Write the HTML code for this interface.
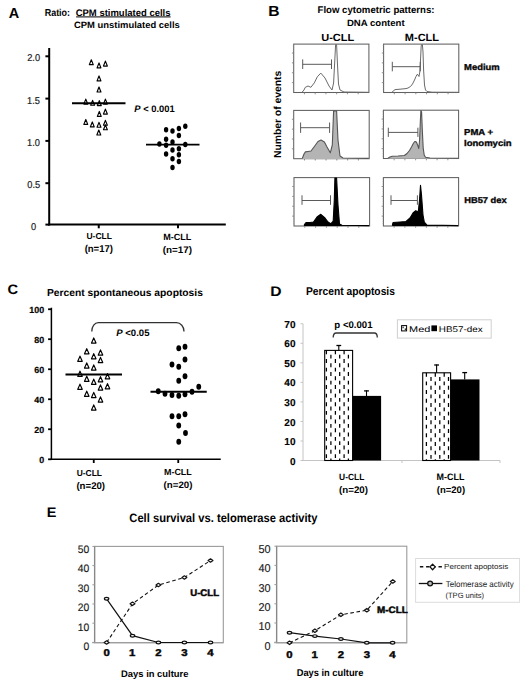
<!DOCTYPE html><html><head><meta charset="utf-8"><style>html,body{margin:0;padding:0;background:#fff;width:520px;height:685px;overflow:hidden}svg{display:block}text{font-family:"Liberation Sans",sans-serif;text-rendering:geometricPrecision}</style></head><body>
<svg width="520" height="685" viewBox="0 0 520 685">
<rect width="520" height="685" fill="#fff"/>
<text x="8.64" y="17.8" font-size="14.53" textLength="10.44" lengthAdjust="spacingAndGlyphs" font-weight="bold">A</text>
<text x="44.70" y="15.6" font-size="10.10" textLength="25.36" lengthAdjust="spacingAndGlyphs" font-weight="bold">Ratio:</text>
<text x="75.71" y="15.6" font-size="9.59" textLength="94.78" lengthAdjust="spacingAndGlyphs" font-weight="bold">CPM stimulated cells</text>
<line x1="76.1" y1="16.9" x2="170.6" y2="16.9" stroke="#333" stroke-width="1.1" />
<text x="74.01" y="28.4" font-size="9.16" textLength="105.77" lengthAdjust="spacingAndGlyphs" font-weight="bold">CPM unstimulated cells</text>
<line x1="49.2" y1="48" x2="49.2" y2="225.5" stroke="#000" stroke-width="2" />
<line x1="48.2" y1="224.6" x2="225.8" y2="224.6" stroke="#000" stroke-width="2" />
<line x1="45.4" y1="56.3" x2="49.2" y2="56.3" stroke="#000" stroke-width="2" />
<text x="27.21" y="61.25" font-size="9.96" textLength="12.88" lengthAdjust="spacingAndGlyphs" fill="#1a1a1a" stroke="#1a1a1a" stroke-width="0.2">2.0</text>
<line x1="45.4" y1="98.6" x2="49.2" y2="98.6" stroke="#000" stroke-width="2" />
<text x="27.10" y="103.55" font-size="9.96" textLength="12.88" lengthAdjust="spacingAndGlyphs" fill="#1a1a1a" stroke="#1a1a1a" stroke-width="0.2">1.5</text>
<line x1="45.4" y1="140.9" x2="49.2" y2="140.9" stroke="#000" stroke-width="2" />
<text x="27.09" y="145.85" font-size="9.96" textLength="12.88" lengthAdjust="spacingAndGlyphs" fill="#1a1a1a" stroke="#1a1a1a" stroke-width="0.2">1.0</text>
<line x1="45.4" y1="183.2" x2="49.2" y2="183.2" stroke="#000" stroke-width="2" />
<text x="27.27" y="188.14999999999998" font-size="9.96" textLength="12.88" lengthAdjust="spacingAndGlyphs" fill="#1a1a1a" stroke="#1a1a1a" stroke-width="0.2">0.5</text>
<line x1="45.4" y1="224.6" x2="49.2" y2="224.6" stroke="#000" stroke-width="2" />
<text x="31.12" y="229.54999999999998" font-size="9.96" textLength="5.15" lengthAdjust="spacingAndGlyphs" fill="#1a1a1a" stroke="#1a1a1a" stroke-width="0.2">0</text>
<line x1="98.75" y1="224.6" x2="98.75" y2="228.3" stroke="#000" stroke-width="2" />
<line x1="178" y1="224.6" x2="178" y2="228.3" stroke="#000" stroke-width="2" />
<polygon points="91.3,59.75 89.35,64.65 93.25,64.65" fill="#fff" stroke="#000" stroke-width="1.15" stroke-linejoin="round"/>
<polygon points="99,62.95 97.05,67.85000000000001 100.95,67.85000000000001" fill="#fff" stroke="#000" stroke-width="1.15" stroke-linejoin="round"/>
<polygon points="105.4,61.15 103.45,66.05 107.35000000000001,66.05" fill="#fff" stroke="#000" stroke-width="1.15" stroke-linejoin="round"/>
<polygon points="99,75.95 97.05,80.85000000000001 100.95,80.85000000000001" fill="#fff" stroke="#000" stroke-width="1.15" stroke-linejoin="round"/>
<polygon points="99,87.05 97.05,91.95 100.95,91.95" fill="#fff" stroke="#000" stroke-width="1.15" stroke-linejoin="round"/>
<polygon points="85.8,99.14999999999999 83.85,104.05 87.75,104.05" fill="#fff" stroke="#000" stroke-width="1.15" stroke-linejoin="round"/>
<polygon points="92.6,100.35 90.64999999999999,105.25 94.55,105.25" fill="#fff" stroke="#000" stroke-width="1.15" stroke-linejoin="round"/>
<polygon points="99.3,100.64999999999999 97.35,105.55 101.25,105.55" fill="#fff" stroke="#000" stroke-width="1.15" stroke-linejoin="round"/>
<polygon points="105.4,99.14999999999999 103.45,104.05 107.35000000000001,104.05" fill="#fff" stroke="#000" stroke-width="1.15" stroke-linejoin="round"/>
<polygon points="105.4,109.14999999999999 103.45,114.05 107.35000000000001,114.05" fill="#fff" stroke="#000" stroke-width="1.15" stroke-linejoin="round"/>
<polygon points="99.3,111.45 97.35,116.35000000000001 101.25,116.35000000000001" fill="#fff" stroke="#000" stroke-width="1.15" stroke-linejoin="round"/>
<polygon points="85.8,119.45 83.85,124.35000000000001 87.75,124.35000000000001" fill="#fff" stroke="#000" stroke-width="1.15" stroke-linejoin="round"/>
<polygon points="92.3,121.95 90.35,126.85000000000001 94.25,126.85000000000001" fill="#fff" stroke="#000" stroke-width="1.15" stroke-linejoin="round"/>
<polygon points="99,122.35 97.05,127.25 100.95,127.25" fill="#fff" stroke="#000" stroke-width="1.15" stroke-linejoin="round"/>
<polygon points="105.4,120.35 103.45,125.25 107.35000000000001,125.25" fill="#fff" stroke="#000" stroke-width="1.15" stroke-linejoin="round"/>
<polygon points="105.4,124.85 103.45,129.75 107.35000000000001,129.75" fill="#fff" stroke="#000" stroke-width="1.15" stroke-linejoin="round"/>
<polygon points="98.8,130.05 96.85,134.95 100.75,134.95" fill="#fff" stroke="#000" stroke-width="1.15" stroke-linejoin="round"/>
<line x1="72" y1="103.3" x2="125.5" y2="103.3" stroke="#000" stroke-width="1.9" />
<ellipse cx="166.1" cy="129.7" rx="2.2" ry="2.75" fill="#000"/>
<ellipse cx="172.5" cy="131.1" rx="2.2" ry="2.75" fill="#000"/>
<ellipse cx="178.9" cy="128.5" rx="2.2" ry="2.75" fill="#000"/>
<ellipse cx="185.3" cy="126.2" rx="2.2" ry="2.75" fill="#000"/>
<ellipse cx="178.9" cy="135.5" rx="2.2" ry="2.75" fill="#000"/>
<ellipse cx="166.1" cy="139.2" rx="2.2" ry="2.75" fill="#000"/>
<ellipse cx="159.4" cy="143.9" rx="2.2" ry="2.75" fill="#000"/>
<ellipse cx="166.1" cy="145.2" rx="2.2" ry="2.75" fill="#000"/>
<ellipse cx="172.5" cy="142.1" rx="2.2" ry="2.75" fill="#000"/>
<ellipse cx="185.3" cy="144.5" rx="2.2" ry="2.75" fill="#000"/>
<ellipse cx="172.5" cy="149.9" rx="2.2" ry="2.75" fill="#000"/>
<ellipse cx="178.9" cy="148.7" rx="2.2" ry="2.75" fill="#000"/>
<ellipse cx="166.1" cy="154" rx="2.2" ry="2.75" fill="#000"/>
<ellipse cx="178.9" cy="154.8" rx="2.2" ry="2.75" fill="#000"/>
<ellipse cx="172.5" cy="158.8" rx="2.2" ry="2.75" fill="#000"/>
<ellipse cx="178.9" cy="161.5" rx="2.2" ry="2.75" fill="#000"/>
<ellipse cx="172.5" cy="167.6" rx="2.2" ry="2.75" fill="#000"/>
<line x1="146" y1="144.6" x2="199.5" y2="144.6" stroke="#000" stroke-width="1.9" />
<text x="134.37" y="112" font-size="9.45" textLength="40.39" lengthAdjust="spacingAndGlyphs" font-weight="bold"><tspan font-style="italic">P</tspan> &lt; 0.001</text>
<text x="86.49" y="239.2" font-size="8.72" textLength="25.47" lengthAdjust="spacingAndGlyphs" font-weight="bold">U-CLL</text>
<text x="84.63" y="251.9" font-size="9.94" textLength="28.35" lengthAdjust="spacingAndGlyphs" font-weight="bold">(n=17)</text>
<text x="163.19" y="239.9" font-size="9.01" textLength="28.19" lengthAdjust="spacingAndGlyphs" font-weight="bold">M-CLL</text>
<text x="162.71" y="252.6" font-size="9.52" textLength="29.28" lengthAdjust="spacingAndGlyphs" font-weight="bold">(n=17)</text>
<text x="268.26" y="16.1" font-size="14.61" textLength="11.25" lengthAdjust="spacingAndGlyphs" font-weight="bold">B</text>
<text x="317.56" y="13.3" font-size="9.74" textLength="116.97" lengthAdjust="spacingAndGlyphs" font-weight="bold">Flow cytometric patterns:</text>
<text x="346.96" y="26.3" font-size="9.16" textLength="57.65" lengthAdjust="spacingAndGlyphs" font-weight="bold">DNA content</text>
<text x="321.24" y="41.1" font-size="10.32" textLength="33.00" lengthAdjust="spacingAndGlyphs" font-weight="bold">U-CLL</text>
<text x="404.86" y="41.2" font-size="10.47" textLength="34.17" lengthAdjust="spacingAndGlyphs" font-weight="bold">M-CLL</text>
<text x="464.07" y="69.55" font-size="8.65" textLength="35.62" lengthAdjust="spacingAndGlyphs" font-weight="bold" stroke="#111" stroke-width="0.35">Medium</text>
<text x="464.07" y="135.1" font-size="8.58" textLength="29.01" lengthAdjust="spacingAndGlyphs" font-weight="bold" stroke="#111" stroke-width="0.35">PMA +</text>
<text x="464.06" y="145.8" font-size="8.72" textLength="47.63" lengthAdjust="spacingAndGlyphs" font-weight="bold" stroke="#111" stroke-width="0.35">Ionomycin</text>
<text x="464.18" y="203.2" font-size="8.43" textLength="42.49" lengthAdjust="spacingAndGlyphs" font-weight="bold" stroke="#111" stroke-width="0.35">HB57 dex</text>
<text x="-0.69" y="0" font-size="10.17" textLength="87.32" lengthAdjust="spacingAndGlyphs" font-weight="bold" transform="translate(280.8,157.4) rotate(-90)">Number of events</text>
<rect x="293.7" y="44.1" width="75.19999999999999" height="48.4" fill="none" stroke="#606060" stroke-width="1.05"/>
<line x1="291.9" y1="82.62244897959184" x2="293.7" y2="82.62244897959184" stroke="#777" stroke-width="0.8" />
<line x1="291.9" y1="72.74489795918367" x2="293.7" y2="72.74489795918367" stroke="#777" stroke-width="0.8" />
<line x1="291.9" y1="62.86734693877551" x2="293.7" y2="62.86734693877551" stroke="#777" stroke-width="0.8" />
<line x1="291.9" y1="52.98979591836735" x2="293.7" y2="52.98979591836735" stroke="#777" stroke-width="0.8" />
<line x1="292.8" y1="90.03061224489795" x2="293.7" y2="90.03061224489795" stroke="#999" stroke-width="0.5" />
<line x1="292.8" y1="87.56122448979592" x2="293.7" y2="87.56122448979592" stroke="#999" stroke-width="0.5" />
<line x1="292.8" y1="85.09183673469389" x2="293.7" y2="85.09183673469389" stroke="#999" stroke-width="0.5" />
<line x1="292.8" y1="82.62244897959184" x2="293.7" y2="82.62244897959184" stroke="#999" stroke-width="0.5" />
<line x1="292.8" y1="80.15306122448979" x2="293.7" y2="80.15306122448979" stroke="#999" stroke-width="0.5" />
<line x1="292.8" y1="77.68367346938776" x2="293.7" y2="77.68367346938776" stroke="#999" stroke-width="0.5" />
<line x1="292.8" y1="75.21428571428572" x2="293.7" y2="75.21428571428572" stroke="#999" stroke-width="0.5" />
<line x1="292.8" y1="72.74489795918367" x2="293.7" y2="72.74489795918367" stroke="#999" stroke-width="0.5" />
<line x1="292.8" y1="70.27551020408164" x2="293.7" y2="70.27551020408164" stroke="#999" stroke-width="0.5" />
<line x1="292.8" y1="67.8061224489796" x2="293.7" y2="67.8061224489796" stroke="#999" stroke-width="0.5" />
<line x1="292.8" y1="65.33673469387756" x2="293.7" y2="65.33673469387756" stroke="#999" stroke-width="0.5" />
<line x1="292.8" y1="62.86734693877551" x2="293.7" y2="62.86734693877551" stroke="#999" stroke-width="0.5" />
<line x1="292.8" y1="60.39795918367348" x2="293.7" y2="60.39795918367348" stroke="#999" stroke-width="0.5" />
<line x1="292.8" y1="57.92857142857143" x2="293.7" y2="57.92857142857143" stroke="#999" stroke-width="0.5" />
<line x1="292.8" y1="55.45918367346939" x2="293.7" y2="55.45918367346939" stroke="#999" stroke-width="0.5" />
<line x1="292.8" y1="52.98979591836735" x2="293.7" y2="52.98979591836735" stroke="#999" stroke-width="0.5" />
<line x1="292.8" y1="50.52040816326531" x2="293.7" y2="50.52040816326531" stroke="#999" stroke-width="0.5" />
<line x1="292.8" y1="48.051020408163275" x2="293.7" y2="48.051020408163275" stroke="#999" stroke-width="0.5" />
<line x1="292.8" y1="45.58163265306123" x2="293.7" y2="45.58163265306123" stroke="#999" stroke-width="0.5" />
<line x1="304.4428571428571" y1="92.5" x2="304.4428571428571" y2="94.3" stroke="#777" stroke-width="0.8" />
<line x1="315.18571428571425" y1="92.5" x2="315.18571428571425" y2="94.3" stroke="#777" stroke-width="0.8" />
<line x1="325.9285714285714" y1="92.5" x2="325.9285714285714" y2="94.3" stroke="#777" stroke-width="0.8" />
<line x1="336.6714285714286" y1="92.5" x2="336.6714285714286" y2="94.3" stroke="#777" stroke-width="0.8" />
<line x1="347.4142857142857" y1="92.5" x2="347.4142857142857" y2="94.3" stroke="#777" stroke-width="0.8" />
<line x1="358.15714285714284" y1="92.5" x2="358.15714285714284" y2="94.3" stroke="#777" stroke-width="0.8" />
<path d="M302,92.3 L304,90 L305.2,87.4 L308,86 L310.9,87.3 L314.3,82.9 L317.3,76.8 L320.8,73.1 L325,78 L329,86 L332,90 L333.6,83 L334.8,60 L335.6,44.6 L336.6,44.6 L337.5,65 L338.5,84 L340,90 L344,92 L368.4,92.3" fill="none" stroke="#6a6a6a" stroke-width="1.0" stroke-linejoin="round"/>
<line x1="302.7" y1="64.3" x2="331.5" y2="64.3" stroke="#5a5a5a" stroke-width="1" />
<line x1="302.7" y1="59.4" x2="302.7" y2="69" stroke="#5a5a5a" stroke-width="1" />
<line x1="331.5" y1="59.4" x2="331.5" y2="69" stroke="#5a5a5a" stroke-width="1" />
<rect x="383.6" y="44.1" width="75.19999999999999" height="48.4" fill="none" stroke="#606060" stroke-width="1.05"/>
<line x1="381.8" y1="82.62244897959184" x2="383.6" y2="82.62244897959184" stroke="#777" stroke-width="0.8" />
<line x1="381.8" y1="72.74489795918367" x2="383.6" y2="72.74489795918367" stroke="#777" stroke-width="0.8" />
<line x1="381.8" y1="62.86734693877551" x2="383.6" y2="62.86734693877551" stroke="#777" stroke-width="0.8" />
<line x1="381.8" y1="52.98979591836735" x2="383.6" y2="52.98979591836735" stroke="#777" stroke-width="0.8" />
<line x1="382.70000000000005" y1="90.03061224489795" x2="383.6" y2="90.03061224489795" stroke="#999" stroke-width="0.5" />
<line x1="382.70000000000005" y1="87.56122448979592" x2="383.6" y2="87.56122448979592" stroke="#999" stroke-width="0.5" />
<line x1="382.70000000000005" y1="85.09183673469389" x2="383.6" y2="85.09183673469389" stroke="#999" stroke-width="0.5" />
<line x1="382.70000000000005" y1="82.62244897959184" x2="383.6" y2="82.62244897959184" stroke="#999" stroke-width="0.5" />
<line x1="382.70000000000005" y1="80.15306122448979" x2="383.6" y2="80.15306122448979" stroke="#999" stroke-width="0.5" />
<line x1="382.70000000000005" y1="77.68367346938776" x2="383.6" y2="77.68367346938776" stroke="#999" stroke-width="0.5" />
<line x1="382.70000000000005" y1="75.21428571428572" x2="383.6" y2="75.21428571428572" stroke="#999" stroke-width="0.5" />
<line x1="382.70000000000005" y1="72.74489795918367" x2="383.6" y2="72.74489795918367" stroke="#999" stroke-width="0.5" />
<line x1="382.70000000000005" y1="70.27551020408164" x2="383.6" y2="70.27551020408164" stroke="#999" stroke-width="0.5" />
<line x1="382.70000000000005" y1="67.8061224489796" x2="383.6" y2="67.8061224489796" stroke="#999" stroke-width="0.5" />
<line x1="382.70000000000005" y1="65.33673469387756" x2="383.6" y2="65.33673469387756" stroke="#999" stroke-width="0.5" />
<line x1="382.70000000000005" y1="62.86734693877551" x2="383.6" y2="62.86734693877551" stroke="#999" stroke-width="0.5" />
<line x1="382.70000000000005" y1="60.39795918367348" x2="383.6" y2="60.39795918367348" stroke="#999" stroke-width="0.5" />
<line x1="382.70000000000005" y1="57.92857142857143" x2="383.6" y2="57.92857142857143" stroke="#999" stroke-width="0.5" />
<line x1="382.70000000000005" y1="55.45918367346939" x2="383.6" y2="55.45918367346939" stroke="#999" stroke-width="0.5" />
<line x1="382.70000000000005" y1="52.98979591836735" x2="383.6" y2="52.98979591836735" stroke="#999" stroke-width="0.5" />
<line x1="382.70000000000005" y1="50.52040816326531" x2="383.6" y2="50.52040816326531" stroke="#999" stroke-width="0.5" />
<line x1="382.70000000000005" y1="48.051020408163275" x2="383.6" y2="48.051020408163275" stroke="#999" stroke-width="0.5" />
<line x1="382.70000000000005" y1="45.58163265306123" x2="383.6" y2="45.58163265306123" stroke="#999" stroke-width="0.5" />
<line x1="394.34285714285716" y1="92.5" x2="394.34285714285716" y2="94.3" stroke="#777" stroke-width="0.8" />
<line x1="405.0857142857143" y1="92.5" x2="405.0857142857143" y2="94.3" stroke="#777" stroke-width="0.8" />
<line x1="415.8285714285714" y1="92.5" x2="415.8285714285714" y2="94.3" stroke="#777" stroke-width="0.8" />
<line x1="426.5714285714286" y1="92.5" x2="426.5714285714286" y2="94.3" stroke="#777" stroke-width="0.8" />
<line x1="437.31428571428575" y1="92.5" x2="437.31428571428575" y2="94.3" stroke="#777" stroke-width="0.8" />
<line x1="448.0571428571429" y1="92.5" x2="448.0571428571429" y2="94.3" stroke="#777" stroke-width="0.8" />
<path d="M392,92.2 L395,89.6 L400,89.2 L406,88.6 L408,88 L410.5,86.5 L412.5,84 L414.5,80 L416,76.5 L417,74.5 L418,74.8 L419,76.5 L419.8,72 L420.5,60 L421.2,46 L421.6,44.6 L422.4,44.6 L423,52 L423.6,70 L424.5,85 L425.5,90 L427,91.5 L432,92.2 L458.3,92.3" fill="none" stroke="#6a6a6a" stroke-width="1.0" stroke-linejoin="round"/>
<line x1="392.3" y1="66.7" x2="420.3" y2="66.7" stroke="#5a5a5a" stroke-width="1" />
<line x1="392.3" y1="61.8" x2="392.3" y2="71.3" stroke="#5a5a5a" stroke-width="1" />
<line x1="420.3" y1="61.8" x2="420.3" y2="71.3" stroke="#5a5a5a" stroke-width="1" />
<rect x="293.7" y="110.4" width="75.5" height="48.29999999999998" fill="none" stroke="#606060" stroke-width="1.05"/>
<line x1="291.9" y1="148.84285714285713" x2="293.7" y2="148.84285714285713" stroke="#777" stroke-width="0.8" />
<line x1="291.9" y1="138.9857142857143" x2="293.7" y2="138.9857142857143" stroke="#777" stroke-width="0.8" />
<line x1="291.9" y1="129.12857142857143" x2="293.7" y2="129.12857142857143" stroke="#777" stroke-width="0.8" />
<line x1="291.9" y1="119.27142857142857" x2="293.7" y2="119.27142857142857" stroke="#777" stroke-width="0.8" />
<line x1="292.8" y1="156.23571428571427" x2="293.7" y2="156.23571428571427" stroke="#999" stroke-width="0.5" />
<line x1="292.8" y1="153.77142857142857" x2="293.7" y2="153.77142857142857" stroke="#999" stroke-width="0.5" />
<line x1="292.8" y1="151.30714285714285" x2="293.7" y2="151.30714285714285" stroke="#999" stroke-width="0.5" />
<line x1="292.8" y1="148.84285714285713" x2="293.7" y2="148.84285714285713" stroke="#999" stroke-width="0.5" />
<line x1="292.8" y1="146.37857142857143" x2="293.7" y2="146.37857142857143" stroke="#999" stroke-width="0.5" />
<line x1="292.8" y1="143.9142857142857" x2="293.7" y2="143.9142857142857" stroke="#999" stroke-width="0.5" />
<line x1="292.8" y1="141.45" x2="293.7" y2="141.45" stroke="#999" stroke-width="0.5" />
<line x1="292.8" y1="138.9857142857143" x2="293.7" y2="138.9857142857143" stroke="#999" stroke-width="0.5" />
<line x1="292.8" y1="136.52142857142857" x2="293.7" y2="136.52142857142857" stroke="#999" stroke-width="0.5" />
<line x1="292.8" y1="134.05714285714285" x2="293.7" y2="134.05714285714285" stroke="#999" stroke-width="0.5" />
<line x1="292.8" y1="131.59285714285716" x2="293.7" y2="131.59285714285716" stroke="#999" stroke-width="0.5" />
<line x1="292.8" y1="129.12857142857143" x2="293.7" y2="129.12857142857143" stroke="#999" stroke-width="0.5" />
<line x1="292.8" y1="126.66428571428571" x2="293.7" y2="126.66428571428571" stroke="#999" stroke-width="0.5" />
<line x1="292.8" y1="124.2" x2="293.7" y2="124.2" stroke="#999" stroke-width="0.5" />
<line x1="292.8" y1="121.7357142857143" x2="293.7" y2="121.7357142857143" stroke="#999" stroke-width="0.5" />
<line x1="292.8" y1="119.27142857142857" x2="293.7" y2="119.27142857142857" stroke="#999" stroke-width="0.5" />
<line x1="292.8" y1="116.80714285714286" x2="293.7" y2="116.80714285714286" stroke="#999" stroke-width="0.5" />
<line x1="292.8" y1="114.34285714285716" x2="293.7" y2="114.34285714285716" stroke="#999" stroke-width="0.5" />
<line x1="292.8" y1="111.87857142857143" x2="293.7" y2="111.87857142857143" stroke="#999" stroke-width="0.5" />
<line x1="304.48571428571427" y1="158.7" x2="304.48571428571427" y2="160.5" stroke="#777" stroke-width="0.8" />
<line x1="315.27142857142854" y1="158.7" x2="315.27142857142854" y2="160.5" stroke="#777" stroke-width="0.8" />
<line x1="326.0571428571428" y1="158.7" x2="326.0571428571428" y2="160.5" stroke="#777" stroke-width="0.8" />
<line x1="336.84285714285716" y1="158.7" x2="336.84285714285716" y2="160.5" stroke="#777" stroke-width="0.8" />
<line x1="347.62857142857143" y1="158.7" x2="347.62857142857143" y2="160.5" stroke="#777" stroke-width="0.8" />
<line x1="358.4142857142857" y1="158.7" x2="358.4142857142857" y2="160.5" stroke="#777" stroke-width="0.8" />
<path d="M302.3,158.5 L304,154 L305.4,151.9 L308,151.5 L311,151 L314,147 L318,141.5 L321,140.1 L324.4,142 L327,147 L330.3,152.8 L332.3,145 L333.6,111 L336.6,111 L338,140 L340,156 L343,158 L368.7,158.4 L368.7,158.9 L302.3,159.0 Z" fill="#b4b4b4" stroke="none"/>
<path d="M302.3,158.5 L304,154 L305.4,151.9 L308,151.5 L311,151 L314,147 L318,141.5 L321,140.1 L324.4,142 L327,147 L330.3,152.8 L332.3,145 L333.6,111 L336.6,111 L338,140 L340,156 L343,158 L368.7,158.4" fill="none" stroke="#555" stroke-width="1.1" stroke-linejoin="round"/>
<line x1="300.6" y1="127.7" x2="329.6" y2="127.7" stroke="#5a5a5a" stroke-width="1" />
<line x1="300.6" y1="122.5" x2="300.6" y2="132.9" stroke="#5a5a5a" stroke-width="1" />
<line x1="329.6" y1="122.5" x2="329.6" y2="132.9" stroke="#5a5a5a" stroke-width="1" />
<rect x="383.4" y="110.2" width="75.20000000000005" height="48.3" fill="none" stroke="#606060" stroke-width="1.05"/>
<line x1="381.59999999999997" y1="148.64285714285714" x2="383.4" y2="148.64285714285714" stroke="#777" stroke-width="0.8" />
<line x1="381.59999999999997" y1="138.78571428571428" x2="383.4" y2="138.78571428571428" stroke="#777" stroke-width="0.8" />
<line x1="381.59999999999997" y1="128.92857142857144" x2="383.4" y2="128.92857142857144" stroke="#777" stroke-width="0.8" />
<line x1="381.59999999999997" y1="119.07142857142858" x2="383.4" y2="119.07142857142858" stroke="#777" stroke-width="0.8" />
<line x1="382.5" y1="156.03571428571428" x2="383.4" y2="156.03571428571428" stroke="#999" stroke-width="0.5" />
<line x1="382.5" y1="153.57142857142858" x2="383.4" y2="153.57142857142858" stroke="#999" stroke-width="0.5" />
<line x1="382.5" y1="151.10714285714286" x2="383.4" y2="151.10714285714286" stroke="#999" stroke-width="0.5" />
<line x1="382.5" y1="148.64285714285714" x2="383.4" y2="148.64285714285714" stroke="#999" stroke-width="0.5" />
<line x1="382.5" y1="146.17857142857142" x2="383.4" y2="146.17857142857142" stroke="#999" stroke-width="0.5" />
<line x1="382.5" y1="143.71428571428572" x2="383.4" y2="143.71428571428572" stroke="#999" stroke-width="0.5" />
<line x1="382.5" y1="141.25" x2="383.4" y2="141.25" stroke="#999" stroke-width="0.5" />
<line x1="382.5" y1="138.78571428571428" x2="383.4" y2="138.78571428571428" stroke="#999" stroke-width="0.5" />
<line x1="382.5" y1="136.32142857142858" x2="383.4" y2="136.32142857142858" stroke="#999" stroke-width="0.5" />
<line x1="382.5" y1="133.85714285714286" x2="383.4" y2="133.85714285714286" stroke="#999" stroke-width="0.5" />
<line x1="382.5" y1="131.39285714285714" x2="383.4" y2="131.39285714285714" stroke="#999" stroke-width="0.5" />
<line x1="382.5" y1="128.92857142857144" x2="383.4" y2="128.92857142857144" stroke="#999" stroke-width="0.5" />
<line x1="382.5" y1="126.46428571428572" x2="383.4" y2="126.46428571428572" stroke="#999" stroke-width="0.5" />
<line x1="382.5" y1="124.0" x2="383.4" y2="124.0" stroke="#999" stroke-width="0.5" />
<line x1="382.5" y1="121.53571428571429" x2="383.4" y2="121.53571428571429" stroke="#999" stroke-width="0.5" />
<line x1="382.5" y1="119.07142857142858" x2="383.4" y2="119.07142857142858" stroke="#999" stroke-width="0.5" />
<line x1="382.5" y1="116.60714285714286" x2="383.4" y2="116.60714285714286" stroke="#999" stroke-width="0.5" />
<line x1="382.5" y1="114.14285714285714" x2="383.4" y2="114.14285714285714" stroke="#999" stroke-width="0.5" />
<line x1="382.5" y1="111.67857142857144" x2="383.4" y2="111.67857142857144" stroke="#999" stroke-width="0.5" />
<line x1="394.1428571428571" y1="158.5" x2="394.1428571428571" y2="160.3" stroke="#777" stroke-width="0.8" />
<line x1="404.8857142857143" y1="158.5" x2="404.8857142857143" y2="160.3" stroke="#777" stroke-width="0.8" />
<line x1="415.62857142857143" y1="158.5" x2="415.62857142857143" y2="160.3" stroke="#777" stroke-width="0.8" />
<line x1="426.37142857142857" y1="158.5" x2="426.37142857142857" y2="160.3" stroke="#777" stroke-width="0.8" />
<line x1="437.1142857142857" y1="158.5" x2="437.1142857142857" y2="160.3" stroke="#777" stroke-width="0.8" />
<line x1="447.8571428571429" y1="158.5" x2="447.8571428571429" y2="160.3" stroke="#777" stroke-width="0.8" />
<path d="M388,158.2 L390,157 L392.3,156.2 L398,156 L404.4,155.5 L407,153.5 L409.5,150.5 L411.5,147 L413.3,143.5 L414.5,141.8 L415.6,141.5 L416.6,142.5 L417.8,145.5 L418.8,148.5 L419.6,140 L420.3,122 L420.9,110.6 L421.6,112 L422.3,130 L423.2,148 L424.2,155 L425.5,157.2 L430,158 L458.1,158.2 L458.1,158.7 L388,158.7 Z" fill="#b4b4b4" stroke="none"/>
<path d="M388,158.2 L390,157 L392.3,156.2 L398,156 L404.4,155.5 L407,153.5 L409.5,150.5 L411.5,147 L413.3,143.5 L414.5,141.8 L415.6,141.5 L416.6,142.5 L417.8,145.5 L418.8,148.5 L419.6,140 L420.3,122 L420.9,110.6 L421.6,112 L422.3,130 L423.2,148 L424.2,155 L425.5,157.2 L430,158 L458.1,158.2" fill="none" stroke="#555" stroke-width="1.1" stroke-linejoin="round"/>
<line x1="388.3" y1="132.4" x2="417.9" y2="132.4" stroke="#5a5a5a" stroke-width="1" />
<line x1="388.3" y1="127.7" x2="388.3" y2="136.9" stroke="#5a5a5a" stroke-width="1" />
<line x1="417.9" y1="127.7" x2="417.9" y2="136.9" stroke="#5a5a5a" stroke-width="1" />
<rect x="294" y="177.6" width="75.60000000000002" height="48.400000000000006" fill="none" stroke="#606060" stroke-width="1.05"/>
<line x1="292.2" y1="216.12244897959184" x2="294" y2="216.12244897959184" stroke="#777" stroke-width="0.8" />
<line x1="292.2" y1="206.24489795918367" x2="294" y2="206.24489795918367" stroke="#777" stroke-width="0.8" />
<line x1="292.2" y1="196.3673469387755" x2="294" y2="196.3673469387755" stroke="#777" stroke-width="0.8" />
<line x1="292.2" y1="186.48979591836735" x2="294" y2="186.48979591836735" stroke="#777" stroke-width="0.8" />
<line x1="293.1" y1="223.53061224489795" x2="294" y2="223.53061224489795" stroke="#999" stroke-width="0.5" />
<line x1="293.1" y1="221.0612244897959" x2="294" y2="221.0612244897959" stroke="#999" stroke-width="0.5" />
<line x1="293.1" y1="218.59183673469389" x2="294" y2="218.59183673469389" stroke="#999" stroke-width="0.5" />
<line x1="293.1" y1="216.12244897959184" x2="294" y2="216.12244897959184" stroke="#999" stroke-width="0.5" />
<line x1="293.1" y1="213.6530612244898" x2="294" y2="213.6530612244898" stroke="#999" stroke-width="0.5" />
<line x1="293.1" y1="211.18367346938774" x2="294" y2="211.18367346938774" stroke="#999" stroke-width="0.5" />
<line x1="293.1" y1="208.71428571428572" x2="294" y2="208.71428571428572" stroke="#999" stroke-width="0.5" />
<line x1="293.1" y1="206.24489795918367" x2="294" y2="206.24489795918367" stroke="#999" stroke-width="0.5" />
<line x1="293.1" y1="203.77551020408163" x2="294" y2="203.77551020408163" stroke="#999" stroke-width="0.5" />
<line x1="293.1" y1="201.30612244897958" x2="294" y2="201.30612244897958" stroke="#999" stroke-width="0.5" />
<line x1="293.1" y1="198.83673469387756" x2="294" y2="198.83673469387756" stroke="#999" stroke-width="0.5" />
<line x1="293.1" y1="196.3673469387755" x2="294" y2="196.3673469387755" stroke="#999" stroke-width="0.5" />
<line x1="293.1" y1="193.89795918367346" x2="294" y2="193.89795918367346" stroke="#999" stroke-width="0.5" />
<line x1="293.1" y1="191.42857142857142" x2="294" y2="191.42857142857142" stroke="#999" stroke-width="0.5" />
<line x1="293.1" y1="188.9591836734694" x2="294" y2="188.9591836734694" stroke="#999" stroke-width="0.5" />
<line x1="293.1" y1="186.48979591836735" x2="294" y2="186.48979591836735" stroke="#999" stroke-width="0.5" />
<line x1="293.1" y1="184.0204081632653" x2="294" y2="184.0204081632653" stroke="#999" stroke-width="0.5" />
<line x1="293.1" y1="181.55102040816325" x2="294" y2="181.55102040816325" stroke="#999" stroke-width="0.5" />
<line x1="293.1" y1="179.0816326530612" x2="294" y2="179.0816326530612" stroke="#999" stroke-width="0.5" />
<line x1="304.8" y1="226" x2="304.8" y2="227.8" stroke="#777" stroke-width="0.8" />
<line x1="315.6" y1="226" x2="315.6" y2="227.8" stroke="#777" stroke-width="0.8" />
<line x1="326.40000000000003" y1="226" x2="326.40000000000003" y2="227.8" stroke="#777" stroke-width="0.8" />
<line x1="337.2" y1="226" x2="337.2" y2="227.8" stroke="#777" stroke-width="0.8" />
<line x1="348.0" y1="226" x2="348.0" y2="227.8" stroke="#777" stroke-width="0.8" />
<line x1="358.8" y1="226" x2="358.8" y2="227.8" stroke="#777" stroke-width="0.8" />
<path d="M304,225.6 L305.5,223 L306.6,222.5 L310,222.5 L313.5,222 L317,217 L320.8,214.3 L325,218 L328,222 L330.8,223.8 L333.2,221 L334.3,200 L334.9,178 L336.6,178 L338,205 L339.5,224 L342,225.3 L369.1,225.6 L369.1,226.1 L304,226.1 Z" fill="#000" stroke="none"/>
<path d="M304,225.6 L305.5,223 L306.6,222.5 L310,222.5 L313.5,222 L317,217 L320.8,214.3 L325,218 L328,222 L330.8,223.8 L333.2,221 L334.3,200 L334.9,178 L336.6,178 L338,205 L339.5,224 L342,225.3 L369.1,225.6" fill="none" stroke="#000" stroke-width="1.1" stroke-linejoin="round"/>
<line x1="302" y1="200.5" x2="330.5" y2="200.5" stroke="#5a5a5a" stroke-width="1" />
<line x1="302" y1="195.3" x2="302" y2="204.8" stroke="#5a5a5a" stroke-width="1" />
<line x1="330.5" y1="195.3" x2="330.5" y2="204.8" stroke="#5a5a5a" stroke-width="1" />
<rect x="383.4" y="177.6" width="75.20000000000005" height="48.400000000000006" fill="none" stroke="#606060" stroke-width="1.05"/>
<line x1="381.59999999999997" y1="216.12244897959184" x2="383.4" y2="216.12244897959184" stroke="#777" stroke-width="0.8" />
<line x1="381.59999999999997" y1="206.24489795918367" x2="383.4" y2="206.24489795918367" stroke="#777" stroke-width="0.8" />
<line x1="381.59999999999997" y1="196.3673469387755" x2="383.4" y2="196.3673469387755" stroke="#777" stroke-width="0.8" />
<line x1="381.59999999999997" y1="186.48979591836735" x2="383.4" y2="186.48979591836735" stroke="#777" stroke-width="0.8" />
<line x1="382.5" y1="223.53061224489795" x2="383.4" y2="223.53061224489795" stroke="#999" stroke-width="0.5" />
<line x1="382.5" y1="221.0612244897959" x2="383.4" y2="221.0612244897959" stroke="#999" stroke-width="0.5" />
<line x1="382.5" y1="218.59183673469389" x2="383.4" y2="218.59183673469389" stroke="#999" stroke-width="0.5" />
<line x1="382.5" y1="216.12244897959184" x2="383.4" y2="216.12244897959184" stroke="#999" stroke-width="0.5" />
<line x1="382.5" y1="213.6530612244898" x2="383.4" y2="213.6530612244898" stroke="#999" stroke-width="0.5" />
<line x1="382.5" y1="211.18367346938774" x2="383.4" y2="211.18367346938774" stroke="#999" stroke-width="0.5" />
<line x1="382.5" y1="208.71428571428572" x2="383.4" y2="208.71428571428572" stroke="#999" stroke-width="0.5" />
<line x1="382.5" y1="206.24489795918367" x2="383.4" y2="206.24489795918367" stroke="#999" stroke-width="0.5" />
<line x1="382.5" y1="203.77551020408163" x2="383.4" y2="203.77551020408163" stroke="#999" stroke-width="0.5" />
<line x1="382.5" y1="201.30612244897958" x2="383.4" y2="201.30612244897958" stroke="#999" stroke-width="0.5" />
<line x1="382.5" y1="198.83673469387756" x2="383.4" y2="198.83673469387756" stroke="#999" stroke-width="0.5" />
<line x1="382.5" y1="196.3673469387755" x2="383.4" y2="196.3673469387755" stroke="#999" stroke-width="0.5" />
<line x1="382.5" y1="193.89795918367346" x2="383.4" y2="193.89795918367346" stroke="#999" stroke-width="0.5" />
<line x1="382.5" y1="191.42857142857142" x2="383.4" y2="191.42857142857142" stroke="#999" stroke-width="0.5" />
<line x1="382.5" y1="188.9591836734694" x2="383.4" y2="188.9591836734694" stroke="#999" stroke-width="0.5" />
<line x1="382.5" y1="186.48979591836735" x2="383.4" y2="186.48979591836735" stroke="#999" stroke-width="0.5" />
<line x1="382.5" y1="184.0204081632653" x2="383.4" y2="184.0204081632653" stroke="#999" stroke-width="0.5" />
<line x1="382.5" y1="181.55102040816325" x2="383.4" y2="181.55102040816325" stroke="#999" stroke-width="0.5" />
<line x1="382.5" y1="179.0816326530612" x2="383.4" y2="179.0816326530612" stroke="#999" stroke-width="0.5" />
<line x1="394.1428571428571" y1="226" x2="394.1428571428571" y2="227.8" stroke="#777" stroke-width="0.8" />
<line x1="404.8857142857143" y1="226" x2="404.8857142857143" y2="227.8" stroke="#777" stroke-width="0.8" />
<line x1="415.62857142857143" y1="226" x2="415.62857142857143" y2="227.8" stroke="#777" stroke-width="0.8" />
<line x1="426.37142857142857" y1="226" x2="426.37142857142857" y2="227.8" stroke="#777" stroke-width="0.8" />
<line x1="437.1142857142857" y1="226" x2="437.1142857142857" y2="227.8" stroke="#777" stroke-width="0.8" />
<line x1="447.8571428571429" y1="226" x2="447.8571428571429" y2="227.8" stroke="#777" stroke-width="0.8" />
<path d="M392.3,225.6 L393,222.5 L400,222 L406,221.5 L410,218 L413,213 L415.7,210.8 L418.3,211.7 L419.5,200 L420.5,185.4 L421.5,195 L423,215 L424.3,222 L427,225 L458.1,225.6 L458.1,226.1 L392.3,226.1 Z" fill="#000" stroke="none"/>
<path d="M392.3,225.6 L393,222.5 L400,222 L406,221.5 L410,218 L413,213 L415.7,210.8 L418.3,211.7 L419.5,200 L420.5,185.4 L421.5,195 L423,215 L424.3,222 L427,225 L458.1,225.6" fill="none" stroke="#000" stroke-width="1.1" stroke-linejoin="round"/>
<line x1="391" y1="200.5" x2="417.4" y2="200.5" stroke="#5a5a5a" stroke-width="1" />
<line x1="391" y1="195.3" x2="391" y2="204.8" stroke="#5a5a5a" stroke-width="1" />
<line x1="417.4" y1="195.3" x2="417.4" y2="204.8" stroke="#5a5a5a" stroke-width="1" />
<text x="7.50" y="293.8" font-size="13.75" textLength="10.60" lengthAdjust="spacingAndGlyphs" font-weight="bold">C</text>
<text x="47.01" y="295.6" font-size="10.17" textLength="155.91" lengthAdjust="spacingAndGlyphs" font-weight="bold">Percent spontaneous apoptosis</text>
<line x1="51.4" y1="307.7" x2="51.4" y2="460" stroke="#000" stroke-width="1.5" />
<line x1="50.7" y1="459.3" x2="220.75" y2="459.3" stroke="#000" stroke-width="1.4" />
<line x1="48.1" y1="309.25" x2="51.4" y2="309.25" stroke="#000" stroke-width="1.8" />
<text x="29.34" y="312.85" font-size="8.88" textLength="14.82" lengthAdjust="spacingAndGlyphs" font-weight="bold" stroke="#111" stroke-width="0.2">100</text>
<line x1="48.1" y1="339.2" x2="51.4" y2="339.2" stroke="#000" stroke-width="1.8" />
<text x="34.28" y="342.8" font-size="8.88" textLength="9.88" lengthAdjust="spacingAndGlyphs" font-weight="bold" stroke="#111" stroke-width="0.2">80</text>
<line x1="48.1" y1="369.25" x2="51.4" y2="369.25" stroke="#000" stroke-width="1.8" />
<text x="34.28" y="372.85" font-size="8.88" textLength="9.88" lengthAdjust="spacingAndGlyphs" font-weight="bold" stroke="#111" stroke-width="0.2">60</text>
<line x1="48.1" y1="399.25" x2="51.4" y2="399.25" stroke="#000" stroke-width="1.8" />
<text x="34.28" y="402.85" font-size="8.88" textLength="9.88" lengthAdjust="spacingAndGlyphs" font-weight="bold" stroke="#111" stroke-width="0.2">40</text>
<line x1="48.1" y1="429.25" x2="51.4" y2="429.25" stroke="#000" stroke-width="1.8" />
<text x="34.28" y="432.85" font-size="8.88" textLength="9.88" lengthAdjust="spacingAndGlyphs" font-weight="bold" stroke="#111" stroke-width="0.2">20</text>
<line x1="48.1" y1="459.3" x2="51.4" y2="459.3" stroke="#000" stroke-width="1.8" />
<text x="39.22" y="462.90000000000003" font-size="8.88" textLength="4.94" lengthAdjust="spacingAndGlyphs" font-weight="bold" stroke="#111" stroke-width="0.2">0</text>
<line x1="93.75" y1="459.3" x2="93.75" y2="463" stroke="#000" stroke-width="1.8" />
<line x1="178.25" y1="459.3" x2="178.25" y2="463" stroke="#000" stroke-width="1.8" />
<polygon points="93.75,337.9 91.5,343.1 96.0,343.1" fill="#fff" stroke="#000" stroke-width="1.15" stroke-linejoin="round"/>
<polygon points="86.75,348.65 84.5,353.85 89.0,353.85" fill="#fff" stroke="#000" stroke-width="1.15" stroke-linejoin="round"/>
<polygon points="100.5,349.9 98.25,355.1 102.75,355.1" fill="#fff" stroke="#000" stroke-width="1.15" stroke-linejoin="round"/>
<polygon points="80,356.15 77.75,361.35 82.25,361.35" fill="#fff" stroke="#000" stroke-width="1.15" stroke-linejoin="round"/>
<polygon points="93.75,353.65 91.5,358.85 96.0,358.85" fill="#fff" stroke="#000" stroke-width="1.15" stroke-linejoin="round"/>
<polygon points="100.5,357.4 98.25,362.6 102.75,362.6" fill="#fff" stroke="#000" stroke-width="1.15" stroke-linejoin="round"/>
<polygon points="86.75,362.9 84.5,368.1 89.0,368.1" fill="#fff" stroke="#000" stroke-width="1.15" stroke-linejoin="round"/>
<polygon points="93.75,364.9 91.5,370.1 96.0,370.1" fill="#fff" stroke="#000" stroke-width="1.15" stroke-linejoin="round"/>
<polygon points="80,371.15 77.75,376.35 82.25,376.35" fill="#fff" stroke="#000" stroke-width="1.15" stroke-linejoin="round"/>
<polygon points="86.75,376.15 84.5,381.35 89.0,381.35" fill="#fff" stroke="#000" stroke-width="1.15" stroke-linejoin="round"/>
<polygon points="93.75,379.15 91.5,384.35 96.0,384.35" fill="#fff" stroke="#000" stroke-width="1.15" stroke-linejoin="round"/>
<polygon points="100.5,376.65 98.25,381.85 102.75,381.85" fill="#fff" stroke="#000" stroke-width="1.15" stroke-linejoin="round"/>
<polygon points="107.5,373.65 105.25,378.85 109.75,378.85" fill="#fff" stroke="#000" stroke-width="1.15" stroke-linejoin="round"/>
<polygon points="80,384.15 77.75,389.35 82.25,389.35" fill="#fff" stroke="#000" stroke-width="1.15" stroke-linejoin="round"/>
<polygon points="100.5,384.9 98.25,390.1 102.75,390.1" fill="#fff" stroke="#000" stroke-width="1.15" stroke-linejoin="round"/>
<polygon points="107.5,383.65 105.25,388.85 109.75,388.85" fill="#fff" stroke="#000" stroke-width="1.15" stroke-linejoin="round"/>
<polygon points="86.75,391.15 84.5,396.35 89.0,396.35" fill="#fff" stroke="#000" stroke-width="1.15" stroke-linejoin="round"/>
<polygon points="93.75,392.4 91.5,397.6 96.0,397.6" fill="#fff" stroke="#000" stroke-width="1.15" stroke-linejoin="round"/>
<polygon points="100.5,396.9 98.25,402.1 102.75,402.1" fill="#fff" stroke="#000" stroke-width="1.15" stroke-linejoin="round"/>
<polygon points="93.75,404.9 91.5,410.1 96.0,410.1" fill="#fff" stroke="#000" stroke-width="1.15" stroke-linejoin="round"/>
<line x1="65.5" y1="374.5" x2="122" y2="374.5" stroke="#000" stroke-width="1.9" />
<ellipse cx="178.75" cy="348.25" rx="2.4" ry="2.95" fill="#000"/>
<ellipse cx="185" cy="346.75" rx="2.4" ry="2.95" fill="#000"/>
<ellipse cx="185" cy="359.5" rx="2.4" ry="2.95" fill="#000"/>
<ellipse cx="172" cy="364.5" rx="2.4" ry="2.95" fill="#000"/>
<ellipse cx="178.75" cy="366.75" rx="2.4" ry="2.95" fill="#000"/>
<ellipse cx="185" cy="376.25" rx="2.4" ry="2.95" fill="#000"/>
<ellipse cx="178.75" cy="380.75" rx="2.4" ry="2.95" fill="#000"/>
<ellipse cx="198.75" cy="386.75" rx="2.4" ry="2.95" fill="#000"/>
<ellipse cx="158.25" cy="391.25" rx="2.4" ry="2.95" fill="#000"/>
<ellipse cx="165" cy="393.75" rx="2.4" ry="2.95" fill="#000"/>
<ellipse cx="172" cy="395" rx="2.4" ry="2.95" fill="#000"/>
<ellipse cx="178.75" cy="395.75" rx="2.4" ry="2.95" fill="#000"/>
<ellipse cx="185" cy="394.25" rx="2.4" ry="2.95" fill="#000"/>
<ellipse cx="192" cy="391.75" rx="2.4" ry="2.95" fill="#000"/>
<ellipse cx="172" cy="416.25" rx="2.4" ry="2.95" fill="#000"/>
<ellipse cx="178.75" cy="416.25" rx="2.4" ry="2.95" fill="#000"/>
<ellipse cx="185" cy="414.25" rx="2.4" ry="2.95" fill="#000"/>
<ellipse cx="178.75" cy="425.5" rx="2.4" ry="2.95" fill="#000"/>
<ellipse cx="185.5" cy="433" rx="2.4" ry="2.95" fill="#000"/>
<ellipse cx="178.75" cy="441.75" rx="2.4" ry="2.95" fill="#000"/>
<line x1="150.5" y1="391.75" x2="206.75" y2="391.75" stroke="#000" stroke-width="1.9" />
<path d="M91.8,331.4 C91.8,326.5 94.7,322.7 98.3,322.7 L176.5,322.7 C180.6,322.7 184,326.5 184,331.4" fill="none" stroke="#333" stroke-width="1.3"/>
<text x="116.26" y="335.8" font-size="9.45" textLength="33.21" lengthAdjust="spacingAndGlyphs" font-weight="bold"><tspan font-style="italic">P</tspan> &lt;0.05</text>
<text x="76.69" y="475.6" font-size="8.72" textLength="25.27" lengthAdjust="spacingAndGlyphs" font-weight="bold">U-CLL</text>
<text x="76.42" y="488.6" font-size="9.66" textLength="28.66" lengthAdjust="spacingAndGlyphs" font-weight="bold">(n=20)</text>
<text x="164.00" y="475.2" font-size="8.87" textLength="27.77" lengthAdjust="spacingAndGlyphs" font-weight="bold">M-CLL</text>
<text x="163.62" y="487.8" font-size="9.38" textLength="28.87" lengthAdjust="spacingAndGlyphs" font-weight="bold">(n=20)</text>
<text x="270.15" y="296.3" font-size="13.95" textLength="11.30" lengthAdjust="spacingAndGlyphs" font-weight="bold">D</text>
<text x="305.91" y="295.4" font-size="11.34" textLength="89.01" lengthAdjust="spacingAndGlyphs" font-weight="bold">Percent apoptosis</text>
<line x1="303" y1="323.7" x2="303" y2="460.5" stroke="#c4c4c4" stroke-width="1" />
<line x1="301.3" y1="460.5" x2="500" y2="460.5" stroke="#c4c4c4" stroke-width="1" />
<line x1="300.5" y1="323.75" x2="303" y2="323.75" stroke="#c4c4c4" stroke-width="1" />
<text x="284.36" y="327.85" font-size="10.03" textLength="11.15" lengthAdjust="spacingAndGlyphs" font-weight="bold" stroke="#111" stroke-width="0.15">70</text>
<line x1="300.5" y1="343.29" x2="303" y2="343.29" stroke="#c4c4c4" stroke-width="1" />
<text x="284.36" y="347.39000000000004" font-size="10.03" textLength="11.15" lengthAdjust="spacingAndGlyphs" font-weight="bold" stroke="#111" stroke-width="0.15">60</text>
<line x1="300.5" y1="362.83" x2="303" y2="362.83" stroke="#c4c4c4" stroke-width="1" />
<text x="284.36" y="366.93" font-size="10.03" textLength="11.15" lengthAdjust="spacingAndGlyphs" font-weight="bold" stroke="#111" stroke-width="0.15">50</text>
<line x1="300.5" y1="382.37" x2="303" y2="382.37" stroke="#c4c4c4" stroke-width="1" />
<text x="284.36" y="386.47" font-size="10.03" textLength="11.15" lengthAdjust="spacingAndGlyphs" font-weight="bold" stroke="#111" stroke-width="0.15">40</text>
<line x1="300.5" y1="401.90999999999997" x2="303" y2="401.90999999999997" stroke="#c4c4c4" stroke-width="1" />
<text x="284.36" y="406.01" font-size="10.03" textLength="11.15" lengthAdjust="spacingAndGlyphs" font-weight="bold" stroke="#111" stroke-width="0.15">30</text>
<line x1="300.5" y1="421.45" x2="303" y2="421.45" stroke="#c4c4c4" stroke-width="1" />
<text x="284.36" y="425.55" font-size="10.03" textLength="11.15" lengthAdjust="spacingAndGlyphs" font-weight="bold" stroke="#111" stroke-width="0.15">20</text>
<line x1="300.5" y1="440.99" x2="303" y2="440.99" stroke="#c4c4c4" stroke-width="1" />
<text x="284.36" y="445.09000000000003" font-size="10.03" textLength="11.15" lengthAdjust="spacingAndGlyphs" font-weight="bold" stroke="#111" stroke-width="0.15">10</text>
<line x1="300.5" y1="460.53" x2="303" y2="460.53" stroke="#c4c4c4" stroke-width="1" />
<text x="289.93" y="464.63" font-size="10.03" textLength="5.58" lengthAdjust="spacingAndGlyphs" font-weight="bold" stroke="#111" stroke-width="0.15">0</text>
<line x1="402" y1="460.5" x2="402" y2="463" stroke="#c4c4c4" stroke-width="1" />
<line x1="500" y1="460.5" x2="500" y2="463" stroke="#c4c4c4" stroke-width="1" />
<rect x="324.7" y="350.4" width="27.900000000000034" height="110.10000000000002" fill="#fff"/>
<path d="M326.4,350.40V354.30M326.4,359.05V362.95M326.4,367.70V371.60M326.4,376.35V380.25M326.4,385.00V388.90M326.4,393.65V397.55M326.4,402.30V406.20M326.4,410.95V414.85M326.4,419.60V423.50M326.4,428.25V432.15M326.4,436.90V440.80M326.4,445.55V449.45M326.4,454.20V458.10" stroke="#000" stroke-width="1.25" fill="none"/>
<path d="M330.9,354.70V358.60M330.9,363.35V367.25M330.9,372.00V375.90M330.9,380.65V384.55M330.9,389.30V393.20M330.9,397.95V401.85M330.9,406.60V410.50M330.9,415.25V419.15M330.9,423.90V427.80M330.9,432.55V436.45M330.9,441.20V445.10M330.9,449.85V453.75M330.9,458.50V460.50" stroke="#000" stroke-width="1.25" fill="none"/>
<path d="M335.4,350.40V354.30M335.4,359.05V362.95M335.4,367.70V371.60M335.4,376.35V380.25M335.4,385.00V388.90M335.4,393.65V397.55M335.4,402.30V406.20M335.4,410.95V414.85M335.4,419.60V423.50M335.4,428.25V432.15M335.4,436.90V440.80M335.4,445.55V449.45M335.4,454.20V458.10" stroke="#000" stroke-width="1.25" fill="none"/>
<path d="M339.7,354.70V358.60M339.7,363.35V367.25M339.7,372.00V375.90M339.7,380.65V384.55M339.7,389.30V393.20M339.7,397.95V401.85M339.7,406.60V410.50M339.7,415.25V419.15M339.7,423.90V427.80M339.7,432.55V436.45M339.7,441.20V445.10M339.7,449.85V453.75M339.7,458.50V460.50" stroke="#000" stroke-width="1.25" fill="none"/>
<path d="M344.1,350.40V354.30M344.1,359.05V362.95M344.1,367.70V371.60M344.1,376.35V380.25M344.1,385.00V388.90M344.1,393.65V397.55M344.1,402.30V406.20M344.1,410.95V414.85M344.1,419.60V423.50M344.1,428.25V432.15M344.1,436.90V440.80M344.1,445.55V449.45M344.1,454.20V458.10" stroke="#000" stroke-width="1.25" fill="none"/>
<path d="M348.4,354.70V358.60M348.4,363.35V367.25M348.4,372.00V375.90M348.4,380.65V384.55M348.4,389.30V393.20M348.4,397.95V401.85M348.4,406.60V410.50M348.4,415.25V419.15M348.4,423.90V427.80M348.4,432.55V436.45M348.4,441.20V445.10M348.4,449.85V453.75M348.4,458.50V460.50" stroke="#000" stroke-width="1.25" fill="none"/>
<rect x="324.7" y="350.4" width="27.900000000000034" height="110.10000000000002" fill="none" stroke="#000" stroke-width="1.1"/>
<line x1="338.8" y1="345" x2="338.8" y2="350.4" stroke="#000" stroke-width="1.1" />
<line x1="336.40000000000003" y1="345.5" x2="341.2" y2="345.5" stroke="#000" stroke-width="1.3" />
<rect x="352.6" y="395.9" width="28.5" height="64.60000000000002" fill="#000"/>
<line x1="366.5" y1="390.4" x2="366.5" y2="396" stroke="#000" stroke-width="1.1" />
<line x1="364.1" y1="390.9" x2="368.9" y2="390.9" stroke="#000" stroke-width="1.3" />
<rect x="422.7" y="372.8" width="27.900000000000034" height="87.69999999999999" fill="#fff"/>
<path d="M426.4,372.80V376.70M426.4,381.45V385.35M426.4,390.10V394.00M426.4,398.75V402.65M426.4,407.40V411.30M426.4,416.05V419.95M426.4,424.70V428.60M426.4,433.35V437.25M426.4,442.00V445.90M426.4,450.65V454.55M426.4,459.30V460.50" stroke="#000" stroke-width="1.25" fill="none"/>
<path d="M431,377.10V381.00M431,385.75V389.65M431,394.40V398.30M431,403.05V406.95M431,411.70V415.60M431,420.35V424.25M431,429.00V432.90M431,437.65V441.55M431,446.30V450.20M431,454.95V458.85" stroke="#000" stroke-width="1.25" fill="none"/>
<path d="M435.3,372.80V376.70M435.3,381.45V385.35M435.3,390.10V394.00M435.3,398.75V402.65M435.3,407.40V411.30M435.3,416.05V419.95M435.3,424.70V428.60M435.3,433.35V437.25M435.3,442.00V445.90M435.3,450.65V454.55M435.3,459.30V460.50" stroke="#000" stroke-width="1.25" fill="none"/>
<path d="M439.8,377.10V381.00M439.8,385.75V389.65M439.8,394.40V398.30M439.8,403.05V406.95M439.8,411.70V415.60M439.8,420.35V424.25M439.8,429.00V432.90M439.8,437.65V441.55M439.8,446.30V450.20M439.8,454.95V458.85" stroke="#000" stroke-width="1.25" fill="none"/>
<path d="M444.2,372.80V376.70M444.2,381.45V385.35M444.2,390.10V394.00M444.2,398.75V402.65M444.2,407.40V411.30M444.2,416.05V419.95M444.2,424.70V428.60M444.2,433.35V437.25M444.2,442.00V445.90M444.2,450.65V454.55M444.2,459.30V460.50" stroke="#000" stroke-width="1.25" fill="none"/>
<path d="M448.5,377.10V381.00M448.5,385.75V389.65M448.5,394.40V398.30M448.5,403.05V406.95M448.5,411.70V415.60M448.5,420.35V424.25M448.5,429.00V432.90M448.5,437.65V441.55M448.5,446.30V450.20M448.5,454.95V458.85" stroke="#000" stroke-width="1.25" fill="none"/>
<rect x="422.7" y="372.8" width="27.900000000000034" height="87.69999999999999" fill="none" stroke="#000" stroke-width="1.1"/>
<line x1="436.6" y1="364.5" x2="436.6" y2="372.8" stroke="#000" stroke-width="1.1" />
<line x1="434.20000000000005" y1="365.0" x2="439.0" y2="365.0" stroke="#000" stroke-width="1.3" />
<rect x="450.6" y="379.4" width="28.899999999999977" height="81.10000000000002" fill="#000"/>
<line x1="464.7" y1="372.1" x2="464.7" y2="379.4" stroke="#000" stroke-width="1.1" />
<line x1="462.3" y1="372.6" x2="467.09999999999997" y2="372.6" stroke="#000" stroke-width="1.3" />
<path d="M333.2,337.6 C333.2,335 334.3,333 336.3,333 L374.3,333 C376.3,333 377.3,335 377.3,337.6" fill="none" stroke="#333" stroke-width="1.3"/>
<text x="334.37" y="327.7" font-size="9.60" textLength="38.20" lengthAdjust="spacingAndGlyphs" font-weight="bold">p &lt;0.001</text>
<rect x="397.4" y="319.8" width="93.8" height="18.3" fill="#fff" stroke="#d0d0d0" stroke-width="1"/>
<rect x="401.6" y="325.6" width="5" height="5.3" fill="#fff" stroke="#000" stroke-width="1"/>
<rect x="402.6" y="326.6" width="1" height="1.6" fill="#000"/><rect x="404.8" y="328.4" width="1" height="1.6" fill="#000"/>
<rect x="431.4" y="325.4" width="5.6" height="5.8" fill="#000"/>
<text x="409.11" y="331.9" font-size="8.28" textLength="21.20" lengthAdjust="spacingAndGlyphs">Med</text>
<text x="438.79" y="331.9" font-size="8.28" textLength="43.81" lengthAdjust="spacingAndGlyphs">HB57-dex</text>
<text x="339.09" y="479.9" font-size="9.01" textLength="25.27" lengthAdjust="spacingAndGlyphs" font-weight="bold">U-CLL</text>
<text x="339.12" y="492.6" font-size="9.52" textLength="28.87" lengthAdjust="spacingAndGlyphs" font-weight="bold">(n=20)</text>
<text x="436.60" y="479.9" font-size="9.30" textLength="27.77" lengthAdjust="spacingAndGlyphs" font-weight="bold">M-CLL</text>
<text x="436.73" y="492.6" font-size="9.52" textLength="28.35" lengthAdjust="spacingAndGlyphs" font-weight="bold">(n=20)</text>
<text x="46.73" y="516.9" font-size="13.95" textLength="9.63" lengthAdjust="spacingAndGlyphs" font-weight="bold">E</text>
<text x="129.34" y="521.9" font-size="12.14" textLength="188.22" lengthAdjust="spacingAndGlyphs" font-weight="bold">Cell survival vs. telomerase activity</text>
<rect x="94.6" y="546.4" width="128.70000000000002" height="96.30000000000007" fill="none" stroke="#9a9a9a" stroke-width="1.1"/>
<line x1="94.6" y1="546.4" x2="94.6" y2="642.7" stroke="#888" stroke-width="1.3" />
<line x1="92.1" y1="642.7" x2="223.3" y2="642.7" stroke="#9a9a9a" stroke-width="1.1" />
<line x1="92.39999999999999" y1="546.4" x2="94.6" y2="546.4" stroke="#9a9a9a" stroke-width="1" />
<text x="77.80" y="552.9" font-size="10.89" textLength="11.51" lengthAdjust="spacingAndGlyphs" fill="#1a1a1a" stroke="#1a1a1a" stroke-width="0.15">50</text>
<line x1="92.39999999999999" y1="565.6" x2="94.6" y2="565.6" stroke="#9a9a9a" stroke-width="1" />
<text x="77.80" y="572.35" font-size="10.89" textLength="11.51" lengthAdjust="spacingAndGlyphs" fill="#1a1a1a" stroke="#1a1a1a" stroke-width="0.15">40</text>
<line x1="92.39999999999999" y1="584.8" x2="94.6" y2="584.8" stroke="#9a9a9a" stroke-width="1" />
<text x="77.80" y="591.8" font-size="10.89" textLength="11.51" lengthAdjust="spacingAndGlyphs" fill="#1a1a1a" stroke="#1a1a1a" stroke-width="0.15">30</text>
<line x1="92.39999999999999" y1="604.0" x2="94.6" y2="604.0" stroke="#9a9a9a" stroke-width="1" />
<text x="77.80" y="611.25" font-size="10.89" textLength="11.51" lengthAdjust="spacingAndGlyphs" fill="#1a1a1a" stroke="#1a1a1a" stroke-width="0.15">20</text>
<line x1="92.39999999999999" y1="623.1999999999999" x2="94.6" y2="623.1999999999999" stroke="#9a9a9a" stroke-width="1" />
<text x="77.80" y="630.6999999999999" font-size="10.89" textLength="11.51" lengthAdjust="spacingAndGlyphs" fill="#1a1a1a" stroke="#1a1a1a" stroke-width="0.15">10</text>
<line x1="92.39999999999999" y1="642.4" x2="94.6" y2="642.4" stroke="#9a9a9a" stroke-width="1" />
<text x="83.55" y="650.15" font-size="10.89" textLength="5.75" lengthAdjust="spacingAndGlyphs" fill="#1a1a1a" stroke="#1a1a1a" stroke-width="0.15">0</text>
<text x="103.45" y="655.9" font-size="9.89" textLength="6.32" lengthAdjust="spacingAndGlyphs" font-weight="bold" stroke="#111" stroke-width="0.45">0</text>
<text x="129.14" y="655.9" font-size="9.89" textLength="6.32" lengthAdjust="spacingAndGlyphs" font-weight="bold" stroke="#111" stroke-width="0.45">1</text>
<text x="155.27" y="655.9" font-size="9.89" textLength="6.32" lengthAdjust="spacingAndGlyphs" font-weight="bold" stroke="#111" stroke-width="0.45">2</text>
<text x="181.31" y="655.9" font-size="9.89" textLength="6.32" lengthAdjust="spacingAndGlyphs" font-weight="bold" stroke="#111" stroke-width="0.45">3</text>
<text x="207.28" y="655.9" font-size="9.89" textLength="6.32" lengthAdjust="spacingAndGlyphs" font-weight="bold" stroke="#111" stroke-width="0.45">4</text>
<path d="M106.6,642.5 L132.5,603.8 L158.4,585 L184.4,577.5 L210.5,560.5" fill="none" stroke="#111" stroke-width="1.1" stroke-dasharray="3.6,2.6"/>
<path d="M106.6,598.8 L132.5,635.7 L158.4,642.5 L184.4,642.5 L210.5,642.5" fill="none" stroke="#111" stroke-width="1.2"/>
<ellipse cx="106.6" cy="598.8" rx="2.2" ry="1.35" fill="#f4f4f4" stroke="#111" stroke-width="1.2"/>
<ellipse cx="132.5" cy="635.7" rx="2.2" ry="1.35" fill="#f4f4f4" stroke="#111" stroke-width="1.2"/>
<ellipse cx="158.4" cy="642.5" rx="2.2" ry="1.35" fill="#f4f4f4" stroke="#111" stroke-width="1.2"/>
<ellipse cx="184.4" cy="642.5" rx="2.2" ry="1.35" fill="#f4f4f4" stroke="#111" stroke-width="1.2"/>
<ellipse cx="210.5" cy="642.5" rx="2.2" ry="1.35" fill="#f4f4f4" stroke="#111" stroke-width="1.2"/>
<polygon points="106.6,640.75 109.05,642.5 106.6,644.25 104.14999999999999,642.5" fill="#fff" stroke="#111" stroke-width="1.2" stroke-linejoin="round"/>
<polygon points="132.5,602.05 134.95,603.8 132.5,605.55 130.05,603.8" fill="#fff" stroke="#111" stroke-width="1.2" stroke-linejoin="round"/>
<polygon points="158.4,583.25 160.85,585 158.4,586.75 155.95000000000002,585" fill="#fff" stroke="#111" stroke-width="1.2" stroke-linejoin="round"/>
<polygon points="184.4,575.75 186.85,577.5 184.4,579.25 181.95000000000002,577.5" fill="#fff" stroke="#111" stroke-width="1.2" stroke-linejoin="round"/>
<polygon points="210.5,558.75 212.95,560.5 210.5,562.25 208.05,560.5" fill="#fff" stroke="#111" stroke-width="1.2" stroke-linejoin="round"/>
<text x="190.22" y="596.4" font-size="9.59" textLength="28.87" lengthAdjust="spacingAndGlyphs" font-weight="bold" stroke="#111" stroke-width="0.5">U-CLL</text>
<text x="121.07" y="676.9" font-size="9.45" textLength="67.35" lengthAdjust="spacingAndGlyphs" font-weight="bold">Days in culture</text>
<rect x="276.6" y="546.2" width="130.2" height="96.59999999999991" fill="none" stroke="#9a9a9a" stroke-width="1.1"/>
<line x1="276.6" y1="546.2" x2="276.6" y2="642.8" stroke="#888" stroke-width="1.3" />
<line x1="274.1" y1="642.8" x2="406.8" y2="642.8" stroke="#9a9a9a" stroke-width="1.1" />
<line x1="274.40000000000003" y1="546.2" x2="276.6" y2="546.2" stroke="#9a9a9a" stroke-width="1" />
<text x="258.51" y="553.1" font-size="11.46" textLength="12.11" lengthAdjust="spacingAndGlyphs" fill="#1a1a1a" stroke="#1a1a1a" stroke-width="0.15">50</text>
<line x1="274.40000000000003" y1="565.4000000000001" x2="276.6" y2="565.4000000000001" stroke="#9a9a9a" stroke-width="1" />
<text x="258.51" y="572.4" font-size="11.46" textLength="12.11" lengthAdjust="spacingAndGlyphs" fill="#1a1a1a" stroke="#1a1a1a" stroke-width="0.15">40</text>
<line x1="274.40000000000003" y1="584.6" x2="276.6" y2="584.6" stroke="#9a9a9a" stroke-width="1" />
<text x="258.51" y="591.7" font-size="11.46" textLength="12.11" lengthAdjust="spacingAndGlyphs" fill="#1a1a1a" stroke="#1a1a1a" stroke-width="0.15">30</text>
<line x1="274.40000000000003" y1="603.8000000000001" x2="276.6" y2="603.8000000000001" stroke="#9a9a9a" stroke-width="1" />
<text x="258.51" y="611.0" font-size="11.46" textLength="12.11" lengthAdjust="spacingAndGlyphs" fill="#1a1a1a" stroke="#1a1a1a" stroke-width="0.15">20</text>
<line x1="274.40000000000003" y1="623.0" x2="276.6" y2="623.0" stroke="#9a9a9a" stroke-width="1" />
<text x="258.51" y="630.3000000000001" font-size="11.46" textLength="12.11" lengthAdjust="spacingAndGlyphs" fill="#1a1a1a" stroke="#1a1a1a" stroke-width="0.15">10</text>
<line x1="274.40000000000003" y1="642.2" x2="276.6" y2="642.2" stroke="#9a9a9a" stroke-width="1" />
<text x="264.57" y="649.6" font-size="11.46" textLength="6.06" lengthAdjust="spacingAndGlyphs" fill="#1a1a1a" stroke="#1a1a1a" stroke-width="0.15">0</text>
<text x="286.35" y="658.0" font-size="9.89" textLength="6.32" lengthAdjust="spacingAndGlyphs" font-weight="bold" stroke="#111" stroke-width="0.45">0</text>
<text x="311.54" y="658.0" font-size="9.89" textLength="6.32" lengthAdjust="spacingAndGlyphs" font-weight="bold" stroke="#111" stroke-width="0.45">1</text>
<text x="337.77" y="658.0" font-size="9.89" textLength="6.32" lengthAdjust="spacingAndGlyphs" font-weight="bold" stroke="#111" stroke-width="0.45">2</text>
<text x="363.71" y="658.0" font-size="9.89" textLength="6.32" lengthAdjust="spacingAndGlyphs" font-weight="bold" stroke="#111" stroke-width="0.45">3</text>
<text x="389.38" y="658.0" font-size="9.89" textLength="6.32" lengthAdjust="spacingAndGlyphs" font-weight="bold" stroke="#111" stroke-width="0.45">4</text>
<path d="M289.5,642.8 L314.9,630.7 L340.9,614.8 L366.8,610.2 L392.8,581.4" fill="none" stroke="#111" stroke-width="1.1" stroke-dasharray="3.6,2.6"/>
<path d="M289.5,632.7 L314.9,636.1 L340.9,639 L366.8,642.8 L392.6,642.8" fill="none" stroke="#111" stroke-width="1.2"/>
<ellipse cx="289.5" cy="632.7" rx="2.2" ry="1.35" fill="#f4f4f4" stroke="#111" stroke-width="1.2"/>
<ellipse cx="314.9" cy="636.1" rx="2.2" ry="1.35" fill="#f4f4f4" stroke="#111" stroke-width="1.2"/>
<ellipse cx="340.9" cy="639" rx="2.2" ry="1.35" fill="#f4f4f4" stroke="#111" stroke-width="1.2"/>
<ellipse cx="366.8" cy="642.8" rx="2.2" ry="1.35" fill="#f4f4f4" stroke="#111" stroke-width="1.2"/>
<ellipse cx="392.6" cy="642.8" rx="2.2" ry="1.35" fill="#f4f4f4" stroke="#111" stroke-width="1.2"/>
<polygon points="289.5,641.05 291.95,642.8 289.5,644.55 287.05,642.8" fill="#fff" stroke="#111" stroke-width="1.2" stroke-linejoin="round"/>
<polygon points="314.9,628.95 317.34999999999997,630.7 314.9,632.45 312.45,630.7" fill="#fff" stroke="#111" stroke-width="1.2" stroke-linejoin="round"/>
<polygon points="340.9,613.05 343.34999999999997,614.8 340.9,616.55 338.45,614.8" fill="#fff" stroke="#111" stroke-width="1.2" stroke-linejoin="round"/>
<polygon points="366.8,608.45 369.25,610.2 366.8,611.95 364.35,610.2" fill="#fff" stroke="#111" stroke-width="1.2" stroke-linejoin="round"/>
<polygon points="392.8,579.65 395.25,581.4 392.8,583.15 390.35,581.4" fill="#fff" stroke="#111" stroke-width="1.2" stroke-linejoin="round"/>
<text x="377.14" y="612.7" font-size="9.30" textLength="30.66" lengthAdjust="spacingAndGlyphs" font-weight="bold" stroke="#111" stroke-width="0.5">M-CLL</text>
<text x="296.68" y="675.6" font-size="9.88" textLength="66.74" lengthAdjust="spacingAndGlyphs" font-weight="bold">Days in culture</text>
<rect x="415.6" y="558.5" width="104" height="43.8" fill="#fff" stroke="#dcdcdc" stroke-width="1"/>
<path d="M419.9,566.8 L444.2,566.8" stroke="#111" stroke-width="1.4" stroke-dasharray="3.4,2.8"/>
<polygon points="432.6,564.1 435.2,566.9 432.6,569.7 430,566.9" fill="#fff" stroke="#111" stroke-width="1.3" stroke-linejoin="round"/>
<text x="444.14" y="569.2" font-size="7.41" textLength="64.15" lengthAdjust="spacingAndGlyphs" fill="#1a1a1a">Percent apoptosis</text>
<line x1="418.8" y1="583.5" x2="442.4" y2="583.5" stroke="#111" stroke-width="1.3" />
<circle cx="430.1" cy="583.5" r="2.4" fill="#bbb" stroke="#111" stroke-width="1.3"/>
<text x="445.72" y="586.9" font-size="8.43" textLength="68.09" lengthAdjust="spacingAndGlyphs" fill="#1a1a1a">Telomerase activity</text>
<text x="445.43" y="597.5" font-size="7.70" textLength="38.74" lengthAdjust="spacingAndGlyphs" fill="#1a1a1a">(TPG units)</text>
</svg></body></html>
